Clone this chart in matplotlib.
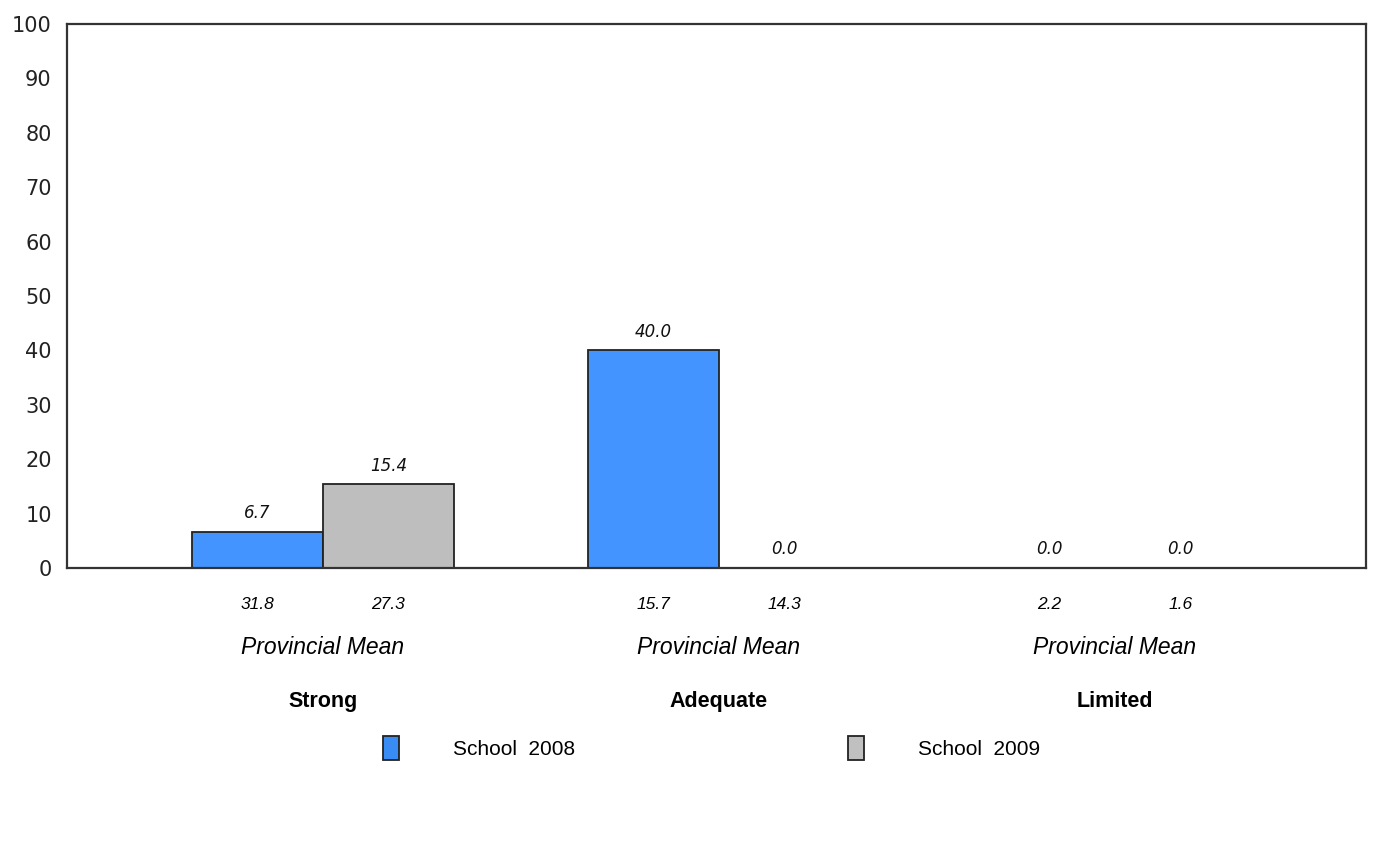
import matplotlib
matplotlib.use('Agg')
import matplotlib.pyplot as plt
import matplotlib.transforms as mtransforms
from matplotlib.patches import Patch
import numpy as np

categories = ['Strong', 'Adequate', 'Limited']
school_2008 = [6.7, 40.0, 0.0]
school_2009 = [15.4, 0.0, 0.0]
prov_2008 = [31.8, 15.7, 2.2]
prov_2009 = [27.3, 14.3, 1.6]
series_names = ['School  2008', 'School  2009']
yticks = list(range(0, 101, 10))

blue = '#4394FF'
gray = '#BEBEBE'
edge = '#222222'

fig = plt.figure(figsize=(13.76, 8.56), dpi=100)
ax = fig.add_axes([67 / 1376, 1 - 568 / 856, 1299 / 1376, 544 / 856])

x = np.arange(len(categories))
w = 0.331
b1 = ax.bar(x - w / 2, school_2008, w, color=blue, edgecolor=edge, linewidth=1.3)
b2 = ax.bar(x + w / 2, school_2009, w, color=gray, edgecolor=edge, linewidth=1.3)

# value labels above the bars
for bars, vals in [(b1, school_2008), (b2, school_2009)]:
    for r, v in zip(bars, vals):
        ax.annotate(f'{v:.1f}', (r.get_x() + r.get_width() / 2, v),
                    xytext=(0, 7), textcoords='offset points',
                    ha='center', va='bottom', fontsize=12, style='italic',
                    family='DejaVu Sans', color='#111111')

ax.set_xlim(-0.646, 2.634)
ax.set_ylim(0, 100)
ax.set_yticks(yticks)
ax.set_xticks([])
ax.tick_params(axis='y', length=0, pad=11, labelsize=15, colors='#222222')
for s in ax.spines.values():
    s.set_color('#333333')
    s.set_linewidth(1.6)

# provincial means and category names under the axis
trans = mtransforms.blended_transform_factory(ax.transData, ax.transAxes)
for i, cat in enumerate(categories):
    ax.text(x[i] - w / 2, -0.068, f'{prov_2008[i]:.1f}', transform=trans,
            ha='center', va='center', fontsize=12.5, style='italic', family='Liberation Sans')
    ax.text(x[i] + w / 2, -0.068, f'{prov_2009[i]:.1f}', transform=trans,
            ha='center', va='center', fontsize=12.5, style='italic', family='Liberation Sans')
    ax.text(x[i], -0.147, 'Provincial Mean', transform=trans,
            ha='center', va='center', fontsize=16.5, style='italic', family='Liberation Sans')
    ax.text(x[i], -0.2445, cat, transform=trans,
            ha='center', va='center', fontsize=15.5, weight='bold', family='Liberation Sans')

handles = [Patch(facecolor='#3A8CF5', edgecolor=edge, linewidth=1.3),
           Patch(facecolor='#C0C0C0', edgecolor=edge, linewidth=1.3)]
fig.legend(handles, series_names, loc='center', bbox_to_anchor=(0.5171, 1 - 748 / 856),
           ncol=2, frameon=False, prop={'family': 'Liberation Sans', 'size': 15},
           handlelength=0.77, handleheight=1.4, handletextpad=2.61, columnspacing=13.1)

fig.savefig('out.png', dpi=100, facecolor='white')
